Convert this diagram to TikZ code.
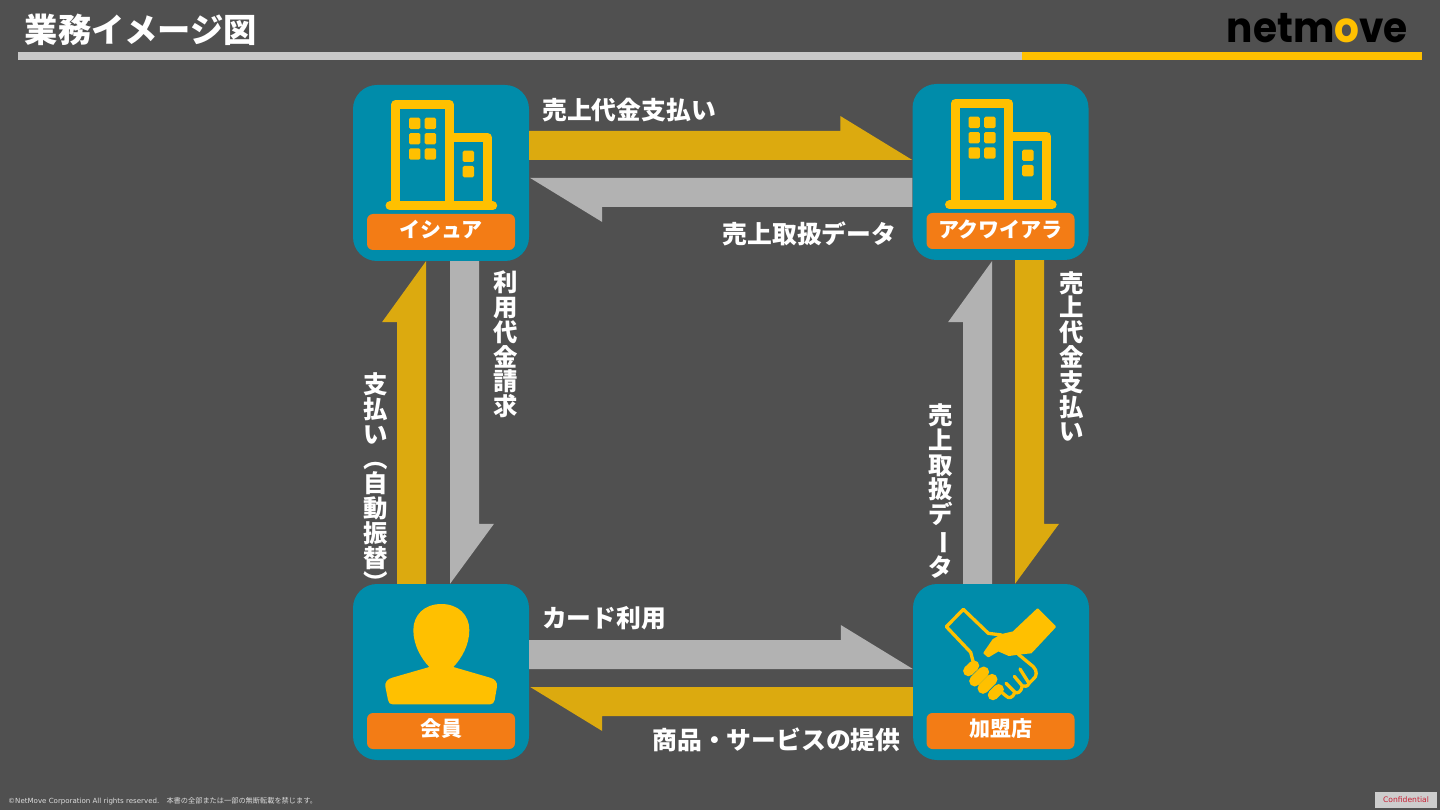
\documentclass[tikz,border=0pt]{standalone}
\usepackage{fontspec}
\usepackage{graphicx}
\setmainfont{Noto Sans CJK JP}
\newfontfamily\logofont{Poppins}
\newfontfamily\footfont{DejaVu Sans}
\usetikzlibrary{calc,positioning}
\definecolor{slidebg}{RGB}{80,80,80}
\definecolor{tileteal}{RGB}{0,140,170}
\definecolor{tagorange}{RGB}{243,124,21}
\definecolor{icongold}{RGB}{255,192,0}
\definecolor{flowgold}{RGB}{220,170,15}
\definecolor{flowgray}{RGB}{178,178,178}
\definecolor{rulegray}{RGB}{200,200,200}
\definecolor{stampred}{RGB}{200,30,50}
\newcommand{\rotjp}[1]{\rotatebox[origin=c]{-90}{#1}}
\newcommand{\flowarrow}[4]{
    \coordinate (tail) at (#2);
    \coordinate (tip) at (#3);
    \coordinate (base) at ($(tip)!#4pt!(tail)$);
    \fill [#1] (tail) -- ($(tail)!29pt!90:(tip)$) -- ($(base)!29pt!90:(tip)$) -- ($(base)!44pt!90:(tip)$) -- (tip) -- cycle;
}
\tikzset{
    tile/.style={fill=tileteal, rounded corners=24pt, minimum width=176pt, minimum height=176pt, inner sep=0pt},
    tag/.style={fill=tagorange, rounded corners=6pt, minimum width=148pt, minimum height=36pt, inner sep=0pt, text=white},
    tagtext/.style={text=white, inner sep=0pt, font=\fontsize{21}{21}\selectfont\bfseries},
    flowtext/.style={text=white, inner sep=0pt, font=\fontsize{24.8}{24.8}\selectfont\bfseries},
    stacktext/.style={text=white, inner sep=0pt, align=center, font=\fontsize{24.4}{24.8}\selectfont\bfseries},
    zoomgrid/.style 2 args={x=0.3333pt, y=-0.3333pt, shift={(#1,#2)}},
    buildingicon/.pic={
        \begin{scope}[zoomgrid={-303}{-309}, icongold, line join=round]
            \draw [line width=9pt] (167.5,400) -- (167.5,103.5) -- (328,103.5) -- (328,400);
            \draw [line width=9pt] (328,201.5) -- (442,201.5) -- (442,400);
            \draw [line width=9pt, line cap=round] (150,407.5) -- (458,407.5);
            \foreach \winx in {207,254}
                \foreach \winy in {143,189,235}
                    \fill [rounded corners=1.5pt] (\winx,\winy) rectangle ++(34,34);
            \foreach \winy in {242,288}
                \fill [rounded corners=1.5pt] (368,\winy) rectangle ++(34,34);
        \end{scope}
    },
    personicon/.pic={
        \begin{scope}[zoomgrid={-303}{-291}]
            \fill [icongold] (304,87) .. controls (355,87) and (388,120) .. (388,165)
                .. controls (388,210) and (365,250) .. (340,276)
                -- (450,308) .. controls (465,312) and (473,322) .. (471,335)
                -- (464,375) .. controls (462,384) and (458,388) .. (450,388)
                -- (158,388) .. controls (150,388) and (146,384) .. (144,375)
                -- (136,335) .. controls (134,322) and (142,312) .. (157,308)
                -- (268,276) .. controls (243,250) and (220,210) .. (220,165)
                .. controls (220,120) and (253,87) .. (304,87) -- cycle;
        \end{scope}
    },
    handshakeicon/.pic={
        \begin{scope}[zoomgrid={-288}{-291}, icongold, line join=round, line cap=round]
            \draw [line width=3.3pt] (205,262) -- (197,232) -- (124,155) -- (175,103) -- (250,175) -- (290,180);
            \filldraw [line width=2pt] (398,103) -- (450,155) -- (378,232) -- (340,236) -- (312,240)
                -- (280,226) -- (250,244) -- (238,234) -- (265,195) -- (290,180) -- (325,172) -- cycle;
            \draw [line width=3.3pt] (340,238) -- (385,275) .. controls (398,288) and (395,305) .. (385,312)
                -- (372,325) -- (345,282);
            \draw [line width=3.3pt] (372,325) .. controls (368,335) and (360,335) .. (352,333) -- (328,304);
            \draw [line width=3.3pt] (352,333) .. controls (348,352) and (338,356) .. (330,352) -- (303,325);
            \draw [line width=3.3pt] (330,352) .. controls (322,370) and (312,372) .. (302,362) -- (288,350);
            \draw [line width=10.5pt] (190,288) -- (207,272);
            \draw [line width=11pt] (209,318) -- (236,291);
            \draw [line width=11pt] (234,340) -- (261,313);
            \draw [line width=10.5pt] (264,360) -- (281,343);
        \end{scope}
    }
}
\begin{document}
\begin{tikzpicture}[x=1pt, y=-1pt]
    \useasboundingbox (0,0) rectangle (1440,810);
    \fill [slidebg] (0,0) rectangle (1440,810);

    % header
    \node [anchor=west, text=white, inner sep=0pt, font=\fontsize{33.3}{33.3}\selectfont\bfseries] (title) at (24.5,30) {業務イメージ図};
    \fill [rulegray] (18,52) rectangle (1022,60);
    \fill [icongold] (1022,52) rectangle (1421.5,60);
    \node [anchor=base east, inner sep=0pt, text=black, font=\logofont\fontsize{42}{42}\selectfont\bfseries] (logo) at (1408,43) {\scalebox{.93}[1]{netm{\color{icongold}o}ve}};

    % tiles
    \node [tile] (issuer) at (441,173) {};
    \node [tile] (acquirer) at (1000.5,172) {};
    \node [tile] (member) at (441,672) {};
    \node [tile] (merchant) at (1001,672) {};

    \node [tag] (issuertag) at ($(issuer)+(0,59)$) {};
    \node [tag] (acquirertag) at ($(acquirer)+(0,59)$) {};
    \node [tag] (membertag) at ($(member)+(0,59)$) {};
    \node [tag] (merchanttag) at ($(merchant)+(-0.5,59)$) {};
    \node [tagtext] (issuername) at ($(issuertag)+(0,-2)$) {イシュア};
    \node [tagtext] (acquirername) at ($(acquirertag)+(0,-2)$) {アクワイアラ};
    \node [tagtext] (membername) at ($(membertag)+(0,-2)$) {会員};
    \node [tagtext] (merchantname) at ($(merchanttag)+(0,-2)$) {加盟店};

    \pic at (issuer.center) {buildingicon};
    \pic at (acquirer.center) {buildingicon};
    \pic at (member.center) {personicon};
    \pic at (merchant.center) {handshakeicon};

    % arrows
    \flowarrow{flowgold}{$(issuer.east)+(0,-13)$}{$(acquirer.west)+(0,-12)$}{72}
    \flowarrow{flowgray}{$(acquirer.west)+(0,6)$}{$(issuer.east)+(1,5)$}{72}
    \flowarrow{flowgold}{$(acquirer.south)+(14.5,0)$}{$(merchant.north)+(14,0)$}{60}
    \flowarrow{flowgray}{$(merchant.north)+(-9,0)$}{$(acquirer.south)+(-8.5,1)$}{61}
    \flowarrow{flowgray}{$(member.east)+(0,-3)$}{$(merchant.west)+(0,-3)$}{72}
    \flowarrow{flowgold}{$(merchant.west)+(0,15)$}{$(member.east)+(1,15)$}{72}
    \flowarrow{flowgold}{$(member.north)+(-15,0)$}{$(issuer.south)+(-15,0)$}{61}
    \flowarrow{flowgray}{$(issuer.south)+(9,0)$}{$(member.north)+(9,0)$}{60}

    % arrow labels
    \node [flowtext] (paytop) at (629,110) {売上代金支払い};
    \node [flowtext] (datatop) at (809.5,234) {売上取扱データ};
    \node [flowtext] (carduse) at (604,618) {カード利用};
    \node [flowtext] (goods) at (776.5,740) {商品・サービスの提供};
    \node [stacktext] (billing) at (505.5,344.5) {利\\用\\代\\金\\請\\求};
    \node [stacktext] (payright) at (1071.5,356.5) {売\\上\\代\\金\\支\\払\\い};
    \node [stacktext] (dataright) at (940.5,491) {売\\上\\取\\扱\\デ\\\rotjp{ー}\\タ};
    \node [stacktext] (payleft) at (375.5,484) {支\\払\\い\\\rotjp{（}\\自\\動\\振\\替\\\rotjp{）}};

    % footer
    \node [anchor=west, inner sep=0pt, text=white!80!slidebg, font=\fontsize{7.2}{7.2}\selectfont] (notice) at (8,801) {{\footfont\fontsize{7.05}{7.2}\selectfont ©NetMove Corporation All rights reserved.}　本書の全部または一部の無断転載を禁じます。};
    \node [fill=rulegray!90!white, text=stampred, minimum width=62pt, minimum height=16pt, inner sep=0pt, font=\footfont\fontsize{7.6}{8}\selectfont] (confidential) at (1406,800) {Confidential};
\end{tikzpicture}
\end{document}
